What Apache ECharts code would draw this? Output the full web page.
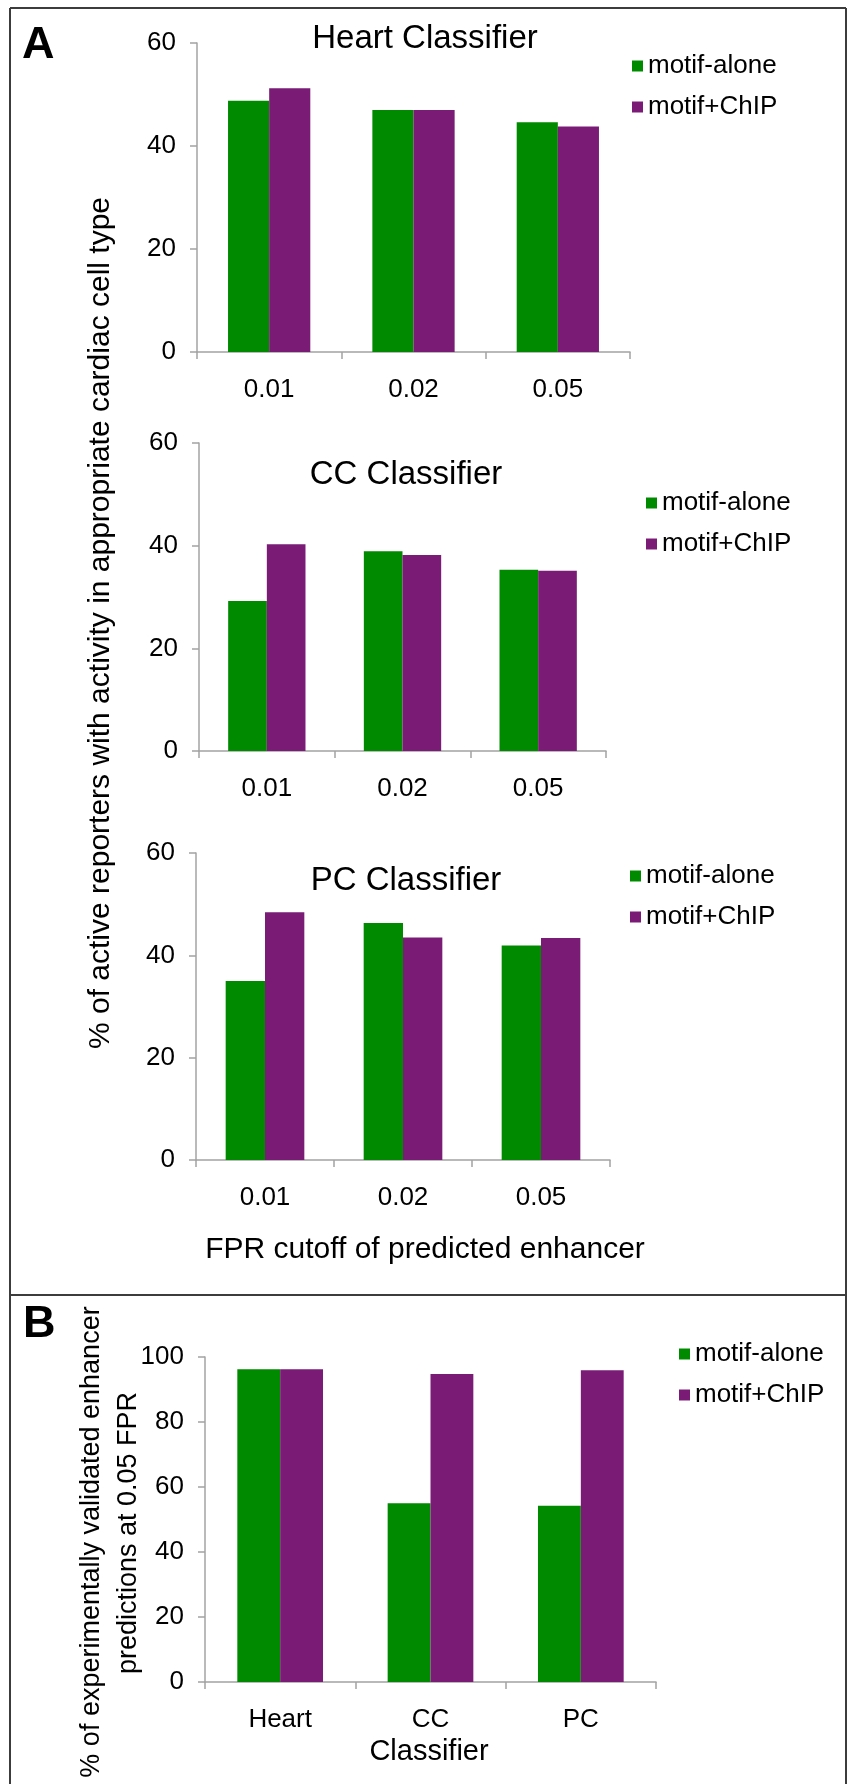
<!DOCTYPE html>
<html>
<head>
<meta charset="utf-8">
<script src="https://cdn.jsdelivr.net/npm/echarts@6/dist/echarts.min.js"></script>
<style>
  html, body { margin: 0; padding: 0; background: #ffffff; }
  #chart { width: 851px; height: 1784px; }
</style>
</head>
<body>
<div id="chart"></div>
<script>
// FPR cutoffs (panel A) and classifiers (panel B)
const fprCutoffs = ['0.01', '0.02', '0.05'];
const classifiers = ['Heart', 'CC', 'PC'];
const seriesNames = ['motif-alone', 'motif+ChIP'];

// Panel A: % of active reporters with activity in the appropriate cardiac cell type
const heartMotifAlone = [48.8, 47.0, 44.6];
const heartMotifChip = [51.2, 47.0, 43.8];
const ccMotifAlone = [29.2, 38.9, 35.3];
const ccMotifChip = [40.3, 38.2, 35.1];
const pcMotifAlone = [35.0, 46.3, 41.9];
const pcMotifChip = [48.4, 43.5, 43.4];

// Panel B: % of experimentally validated enhancer predictions at 0.05 FPR
const validatedMotifAlone = [96.2, 55.0, 54.2];
const validatedMotifChip = [96.2, 94.8, 95.9];

// Axis ticks
const ticksA = [0, 20, 40, 60];
const ticksB = [0, 20, 40, 60, 80, 100];

const FONT = '"Liberation Sans", Arial, Helvetica, sans-serif';
const GREEN = '#008a00';
const PURPLE = '#7a1b76';
const AXIS_GREY = '#a3a3a3';

const chart = echarts.init(document.getElementById('chart'), null, { renderer: 'canvas' });

// plotting areas of the four bar charts
const grids = [
  { left: 197, top: 43, width: 433, height: 309 },   // Heart
  { left: 199, top: 443, width: 407, height: 308 },  // CC
  { left: 196, top: 853, width: 414, height: 307 },  // PC
  { left: 205, top: 1357, width: 451, height: 325 }  // panel B
];

function xAxisFor(idx, cats, fontSize) {
  return {
    type: 'category', gridIndex: idx, data: cats,
    axisLine: { show: true, lineStyle: { color: AXIS_GREY, width: 1.5 } },
    axisTick: { show: true, length: 7, lineStyle: { color: AXIS_GREY, width: 1.5 } },
    axisLabel: { margin: 25, fontSize: fontSize, color: '#000', fontFamily: FONT },
    splitLine: { show: false }
  };
}

function yAxisFor(idx, ticks, fontSize) {
  return {
    type: 'value', gridIndex: idx,
    min: ticks[0], max: ticks[ticks.length - 1], interval: ticks[1] - ticks[0],
    axisLine: { show: true, lineStyle: { color: AXIS_GREY, width: 1.5 } },
    axisTick: { show: true, length: 7, lineStyle: { color: AXIS_GREY, width: 1.5 } },
    axisLabel: { margin: 21, fontSize: fontSize, color: '#000', fontFamily: FONT },
    splitLine: { show: false }
  };
}

function barPair(idx, alone, chip) {
  const common = {
    type: 'bar', xAxisIndex: idx, yAxisIndex: idx,
    barGap: '0%', barCategoryGap: '43%', animation: false
  };
  return [
    Object.assign({ name: seriesNames[0], data: alone, itemStyle: { color: GREEN } }, common),
    Object.assign({ name: seriesNames[1], data: chip, itemStyle: { color: PURPLE } }, common)
  ];
}

function legendAt(x, squareTop) {
  return {
    orient: 'vertical', left: x, top: squareTop - 12, padding: 0,
    itemWidth: 11, itemHeight: 11, itemGap: 5, icon: 'rect',
    selectedMode: false,
    data: seriesNames,
    textStyle: {
      fontSize: 26, lineHeight: 26, color: '#000', fontFamily: FONT,
      padding: [10, 0, 0, 0]
    }
  };
}

function label(text, x, y, size, extra) {
  return Object.assign({
    type: 'text', x: x, y: y, silent: true,
    style: {
      text: text, fill: '#000', fontSize: size, fontFamily: FONT,
      textAlign: 'center', textVerticalAlign: 'middle'
    }
  }, extra || {});
}

function panelLetter(text, x, y) {
  return {
    type: 'text', x: x, y: y, silent: true,
    style: {
      text: text, fill: '#000', fontSize: 45, fontWeight: 'bold', fontFamily: FONT,
      textAlign: 'left', textVerticalAlign: 'middle'
    }
  };
}

function line(x1, y1, x2, y2) {
  return {
    type: 'line', silent: true,
    shape: { x1: x1, y1: y1, x2: x2, y2: y2 },
    style: { stroke: '#3c3c3c', lineWidth: 2 }
  };
}

const option = {
  backgroundColor: '#ffffff',
  animation: false,
  grid: grids,
  xAxis: [
    xAxisFor(0, fprCutoffs, 26),
    xAxisFor(1, fprCutoffs, 26),
    xAxisFor(2, fprCutoffs, 26),
    xAxisFor(3, classifiers, 26)
  ],
  yAxis: [
    yAxisFor(0, ticksA, 26),
    yAxisFor(1, ticksA, 26),
    yAxisFor(2, ticksA, 26),
    yAxisFor(3, ticksB, 26)
  ],
  legend: [
    legendAt(632, 60),
    legendAt(646, 497),
    legendAt(630, 870),
    legendAt(679, 1348)
  ],
  series: [].concat(
    barPair(0, heartMotifAlone, heartMotifChip),
    barPair(1, ccMotifAlone, ccMotifChip),
    barPair(2, pcMotifAlone, pcMotifChip),
    barPair(3, validatedMotifAlone, validatedMotifChip)
  ),
  graphic: [
    // frame around both panels and the divider between A and B
    line(10, 8, 846, 8),
    line(10, 8, 10, 1784),
    line(846, 8, 846, 1784),
    line(10, 1295, 846, 1295),

    // panel letters
    panelLetter('A', 22, 46),
    panelLetter('B', 23, 1325),

    // chart titles
    label('Heart Classifier', 425, 39, 33),
    label('CC Classifier', 406, 475, 33),
    label('PC Classifier', 406, 881, 33),

    // axis titles, panel A
    label('FPR cutoff of predicted enhancer', 425, 1250, 30),
    label('% of active reporters with activity in appropriate cardiac cell type', 101, 623, 30, { rotation: Math.PI / 2 }),

    // axis titles, panel B
    label('Classifier', 429, 1752, 29),
    label('% of experimentally validated enhancer', 92, 1542, 27, { rotation: Math.PI / 2 }),
    label('predictions at 0.05 FPR', 129, 1533, 27, { rotation: Math.PI / 2 })
  ]
};

chart.setOption(option);
</script>
</body>
</html>
